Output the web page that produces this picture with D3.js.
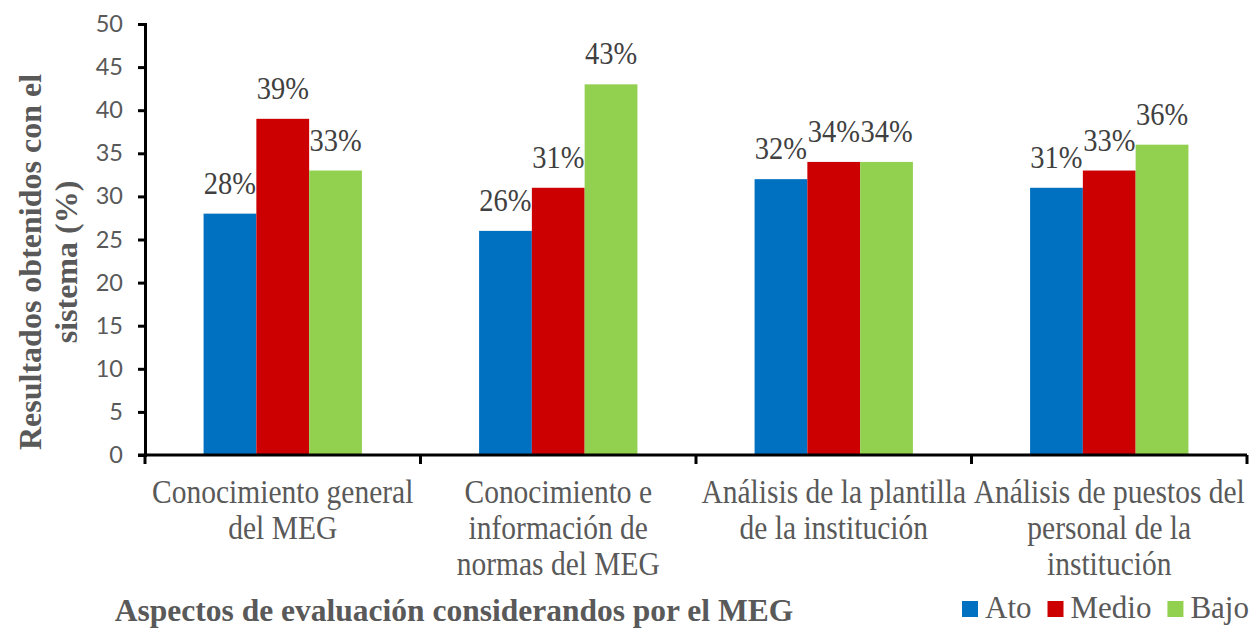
<!DOCTYPE html>
<html>
<head>
<meta charset="utf-8">
<script src="https://cdn.jsdelivr.net/npm/d3@7"></script>
<style>
  html, body { margin: 0; padding: 0; background: #fff; }
  svg { display: block; }
  .serif { font-family: "Liberation Serif"; }
  .sans { font-family: Lato; }
</style>
</head>
<body>
<svg id="chart" width="1254" height="628"></svg>
<script>
// Evaluation aspects (each label split into its display lines)
const categories = [
  ["Conocimiento general", "del MEG"],
  ["Conocimiento e", "información de", "normas del MEG"],
  ["Análisis de la plantilla", "de la institución"],
  ["Análisis de puestos del", "personal de la", "institución"]
];
const seriesNames = ["Ato", "Medio", "Bajo"];
const seriesColors = ["#0070C0", "#CC0000", "#92D050"];
const alto  = [28, 26, 32, 31];
const medio = [39, 31, 34, 33];
const bajo  = [33, 43, 34, 36];
const yTicks = [0, 5, 10, 15, 20, 25, 30, 35, 40, 45, 50];

const values = [alto, medio, bajo];
const svg = d3.select("#chart");
const m = { left: 145, right: 7, top: 24, bottom: 173 };
const W = 1254, H = 628;
const plotW = W - m.left - m.right;
const plotH = H - m.top - m.bottom;

const x0 = d3.scaleBand().domain(d3.range(categories.length)).range([m.left, m.left + plotW]).paddingInner(0).paddingOuter(0);
const x1 = d3.scaleBand().domain(d3.range(seriesNames.length)).range([0, x0.bandwidth()]).paddingInner(0).paddingOuter(1.11);
const y = d3.scaleLinear().domain([0, 50]).range([m.top + plotH, m.top]);

const grey = "#595959";
const tall = 1.12; // regular serif text is drawn slightly elongated

// Bars
const groups = svg.append("g").selectAll("g")
  .data(categories.map((c, i) => i))
  .join("g")
  .attr("transform", i => `translate(${x0(i)},0)`);

groups.selectAll("rect")
  .data(i => values.map((s, k) => ({ k, v: s[i] })))
  .join("rect")
  .attr("x", d => x1(d.k))
  .attr("y", d => y(d.v))
  .attr("width", x1.bandwidth())
  .attr("height", d => y(0) - y(d.v))
  .attr("fill", d => seriesColors[d.k]);

// Value labels above bars
groups.selectAll("text.val")
  .data(i => values.map((s, k) => ({ k, v: s[i] })))
  .join("text")
  .attr("class", "val serif")
  .attr("transform", d => `translate(${x1(d.k) + x1.bandwidth() / 2},${y(d.v) - 20}) scale(1,${tall})`)
  .attr("text-anchor", "middle")
  .attr("font-size", 28.5)
  .attr("fill", "#404040")
  .text(d => d.v + "%");

// Y axis
const yAxis = svg.append("g")
  .attr("transform", `translate(${m.left},0)`)
  .call(d3.axisLeft(y).tickValues(yTicks).tickSize(7).tickPadding(15));
yAxis.attr("font-family", null);
yAxis.select(".domain").attr("stroke", "#000").attr("stroke-width", 3);
yAxis.selectAll(".tick line").attr("stroke", "#000").attr("stroke-width", 3);
yAxis.selectAll(".tick text").attr("class", "sans").attr("font-size", 23.5).attr("fill", grey);

// X axis with ticks at category boundaries
const xAxisG = svg.append("g").attr("transform", `translate(0,${y(0)})`);
xAxisG.append("line")
  .attr("x1", m.left - 7).attr("x2", m.left + plotW)
  .attr("stroke", "#000").attr("stroke-width", 3);
const bounds = d3.range(categories.length + 1).map(i => i < categories.length ? x0(i) : x0(i - 1) + x0.bandwidth());
xAxisG.selectAll("line.tk")
  .data(bounds)
  .join("line")
  .attr("class", "tk")
  .attr("x1", d => d).attr("x2", d => d)
  .attr("y1", 0).attr("y2", 9)
  .attr("stroke", "#000").attr("stroke-width", 3);

// Category labels, one text element per line
const catLines = categories.flatMap((lines, i) => lines.map((line, j) => ({ line, i, j })));
svg.append("g").selectAll("text")
  .data(catLines)
  .join("text")
  .attr("class", "serif")
  .attr("transform", d => `translate(${x0(d.i) + x0.bandwidth() / 2},${503 + d.j * 36}) scale(1,${tall})`)
  .attr("text-anchor", "middle")
  .attr("font-size", 29.5)
  .attr("fill", grey)
  .text(d => d.line);

// Y axis title
svg.append("text")
  .attr("class", "serif")
  .attr("transform", "translate(41,262) rotate(-90)")
  .attr("text-anchor", "middle")
  .attr("font-weight", "bold")
  .attr("font-size", 32)
  .attr("fill", grey)
  .selectAll("tspan")
  .data(["Resultados obtenidos con el", "sistema (%)"])
  .join("tspan")
  .attr("x", 0)
  .attr("y", (d, j) => j * 36)
  .text(d => d);

// X axis title
svg.append("text")
  .attr("class", "serif")
  .attr("x", 454)
  .attr("y", 621)
  .attr("text-anchor", "middle")
  .attr("font-weight", "bold")
  .attr("font-size", 31.5)
  .attr("fill", grey)
  .text("Aspectos de evaluación considerandos por el MEG");

// Legend
const legend = svg.append("g").attr("transform", "translate(962,618)");
let lx = 0;
seriesNames.forEach((name, k) => {
  const g = legend.append("g").attr("transform", `translate(${lx},0)`);
  g.append("rect").attr("x", 0).attr("y", -17).attr("width", 16).attr("height", 16).attr("fill", seriesColors[k]);
  const t = g.append("text")
    .attr("class", "serif")
    .attr("x", 23).attr("y", 0)
    .attr("font-size", 31)
    .attr("fill", grey)
    .text(name);
  lx += 23 + t.node().getComputedTextLength() + 16;
});
</script>
</body>
</html>
